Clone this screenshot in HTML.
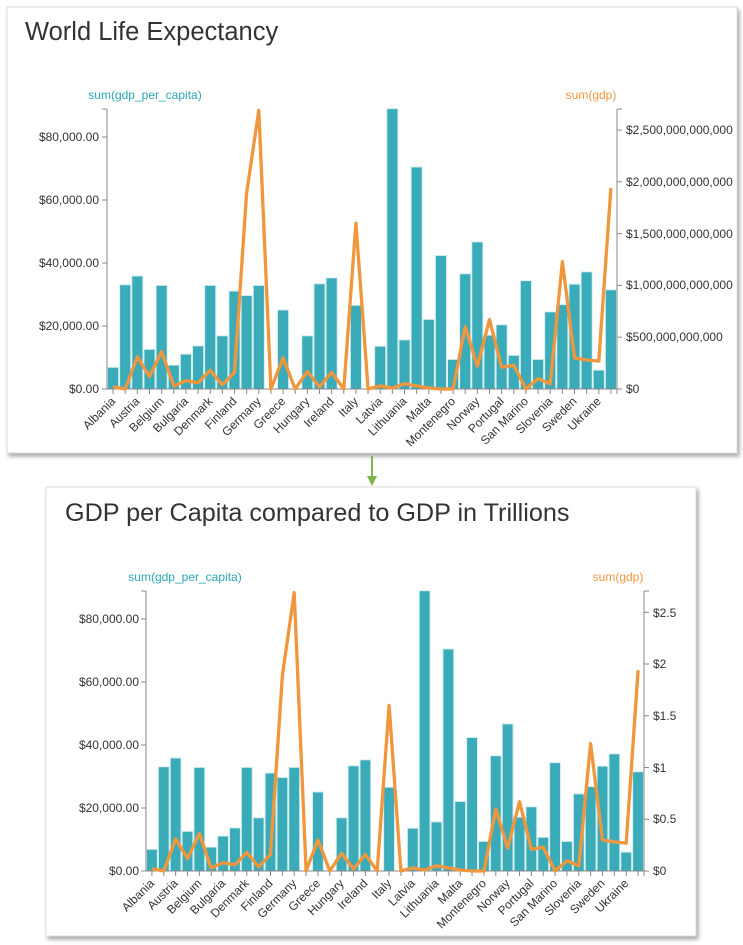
<!DOCTYPE html>
<html><head><meta charset="utf-8"><style>
body{margin:0;background:#fff;width:743px;height:945px;overflow:hidden;font-family:"Liberation Sans",sans-serif}
svg{position:absolute;left:0;top:0}
text{font-family:"Liberation Sans",sans-serif}
.t{font-size:12px;fill:#333}
.xl{font-size:12px;fill:#333;text-anchor:end}
</style></head><body>
<svg width="743" height="945" viewBox="0 0 743 945">
<defs><filter id="sh" x="-5%" y="-5%" width="110%" height="110%"><feDropShadow dx="2" dy="3" stdDeviation="2" flood-color="#000" flood-opacity="0.35"/></filter></defs>
<rect x="7" y="7" width="730" height="446" fill="#fff" stroke="#ddd" filter="url(#sh)"/>
<rect x="46" y="487" width="650" height="449" fill="#fff" stroke="#ddd" filter="url(#sh)"/>
<line x1="372" y1="456" x2="372" y2="478" stroke="#7ab648" stroke-width="2"/>
<polygon points="367,476 377,476 372,486" fill="#7ab648"/>
<text x="25" y="40" font-size="25.5" fill="#333">World Life Expectancy</text>
<text x="65" y="521" font-size="25.2" fill="#333">GDP per Capita compared to GDP in Trillions</text>
<g id="c1"></g><g id="c2"></g>
<text x="145" y="99" font-size="12" fill="#2aa6b5" text-anchor="middle">sum(gdp_per_capita)</text>
<text x="591" y="99" font-size="12" fill="#f0963c" text-anchor="middle">sum(gdp)</text>
<g class="t" text-anchor="end">
<text x="99" y="141">$80,000.00</text><text x="99" y="204">$60,000.00</text><text x="99" y="267">$40,000.00</text><text x="99" y="330">$20,000.00</text><text x="99" y="393">$0.00</text>
</g>
<g class="t">
<text x="626" y="134">$2,500,000,000,000</text><text x="626" y="186">$2,000,000,000,000</text><text x="626" y="238">$1,500,000,000,000</text><text x="626" y="289">$1,000,000,000,000</text><text x="626" y="341">$500,000,000,000</text><text x="626" y="393">$0</text>
</g>
<g id="xl1" class="xl">
<text>Albania</text><text>Austria</text><text>Belgium</text><text>Bulgaria</text><text>Denmark</text><text>Finland</text><text>Germany</text><text>Greece</text><text>Hungary</text><text>Ireland</text><text>Italy</text><text>Latvia</text><text>Lithuania</text><text>Malta</text><text>Montenegro</text><text>Norway</text><text>Portugal</text><text>San Marino</text><text>Slovenia</text><text>Sweden</text><text>Ukraine</text>
</g>
<text x="185" y="581" font-size="12" fill="#2aa6b5" text-anchor="middle">sum(gdp_per_capita)</text>
<text x="618" y="581" font-size="12" fill="#f0963c" text-anchor="middle">sum(gdp)</text>
<g class="t" text-anchor="end">
<text x="139" y="623">$80,000.00</text><text x="139" y="686">$60,000.00</text><text x="139" y="749">$40,000.00</text><text x="139" y="812">$20,000.00</text><text x="139" y="875">$0.00</text>
</g>
<g class="t">
<text x="653" y="617">$2.5</text><text x="653" y="668">$2</text><text x="653" y="720">$1.5</text><text x="653" y="772">$1</text><text x="653" y="823">$0.5</text><text x="653" y="875">$0</text>
</g>
<g id="xl2" class="xl">
<text>Albania</text><text>Austria</text><text>Belgium</text><text>Bulgaria</text><text>Denmark</text><text>Finland</text><text>Germany</text><text>Greece</text><text>Hungary</text><text>Ireland</text><text>Italy</text><text>Latvia</text><text>Lithuania</text><text>Malta</text><text>Montenegro</text><text>Norway</text><text>Portugal</text><text>San Marino</text><text>Slovenia</text><text>Sweden</text><text>Ukraine</text>
</g>
</svg>
<script>
var gpc=[6.9,33.1,35.9,12.6,32.9,7.6,11.1,13.7,32.9,16.9,31.1,29.7,32.9,0,25.1,0,16.9,33.4,35.3,0,26.6,0,13.6,89,15.6,70.5,22.1,42.4,9.4,36.6,46.7,17.1,20.4,10.7,34.4,9.4,24.5,26.8,33.3,37.2,6,31.5];
var gdp=[0.02,0,0.31,0.12,0.36,0.03,0.08,0.06,0.18,0.04,0.16,1.89,2.69,0,0.3,0,0.17,0.02,0.16,0,1.6,0,0.03,0.01,0.05,0.03,0.01,0,0,0.6,0.22,0.67,0.21,0.23,0,0.1,0.05,1.23,0.3,0.28,0.27,1.94];
var NS="http://www.w3.org/2000/svg";
function el(p,n,a){var e=document.createElementNS(NS,n);for(var k in a)e.setAttribute(k,a[k]);p.appendChild(e);return e;}
function build(g,xl,x0,x1,y0,ytop,ltk,rtk){
  var bw=(x1-x0)/42,kp=3.15,tp=(y0-rtk)/2.5;
  for(var i=0;i<42;i++){var h=gpc[i]*kp;if(h>0)el(g,'rect',{x:x0+i*bw+0.5,y:y0-h,width:bw-1,height:h,fill:'#3aabb8',stroke:'#d8eef0','stroke-width':1});}
  el(g,'line',{x1:x0,y1:ytop,x2:x0,y2:y0,stroke:'#888'});
  el(g,'line',{x1:x0-5,y1:ytop,x2:x0,y2:ytop,stroke:'#888'});
  el(g,'line',{x1:x1,y1:ytop,x2:x1,y2:y0+5,stroke:'#888'});
  el(g,'line',{x1:x1,y1:ytop,x2:x1+5,y2:ytop,stroke:'#888'});
  el(g,'line',{x1:x0,y1:y0,x2:x1,y2:y0,stroke:'#888'});
  for(var j=0;j<5;j++){var y=y0-j*20*kp;el(g,'line',{x1:x0-5,y1:y,x2:x0,y2:y,stroke:'#888'});}
  for(var j=0;j<6;j++){var y=y0-j*0.5*tp;el(g,'line',{x1:x1,y1:y,x2:x1+5,y2:y,stroke:'#888'});}
  for(var i=0;i<42;i++){var x=x0+(i+0.5)*bw;el(g,'line',{x1:x,y1:y0,x2:x,y2:y0+5,stroke:'#888'});}
  var d='';for(var i=0;i<42;i++){d+=(i?'L':'M')+(x0+(i+0.5)*bw).toFixed(1)+','+(y0-gdp[i]*tp).toFixed(1);}
  el(g,'path',{d:d,fill:'none',stroke:'#f0963c','stroke-width':3.3,'stroke-linejoin':'round'});
  var ts=xl.getElementsByTagName('text');
  for(var k=0;k<ts.length;k++){var x=x0+(2*k+0.5)*bw+3,y=y0+13;ts[k].setAttribute('transform','translate('+x+','+y+') rotate(-45)');}
}
build(document.getElementById('c1'),document.getElementById('xl1'),107,617,389,109,137,130);
build(document.getElementById('c2'),document.getElementById('xl2'),146,644,871,591,619,612.3);
</script>
</body></html>
